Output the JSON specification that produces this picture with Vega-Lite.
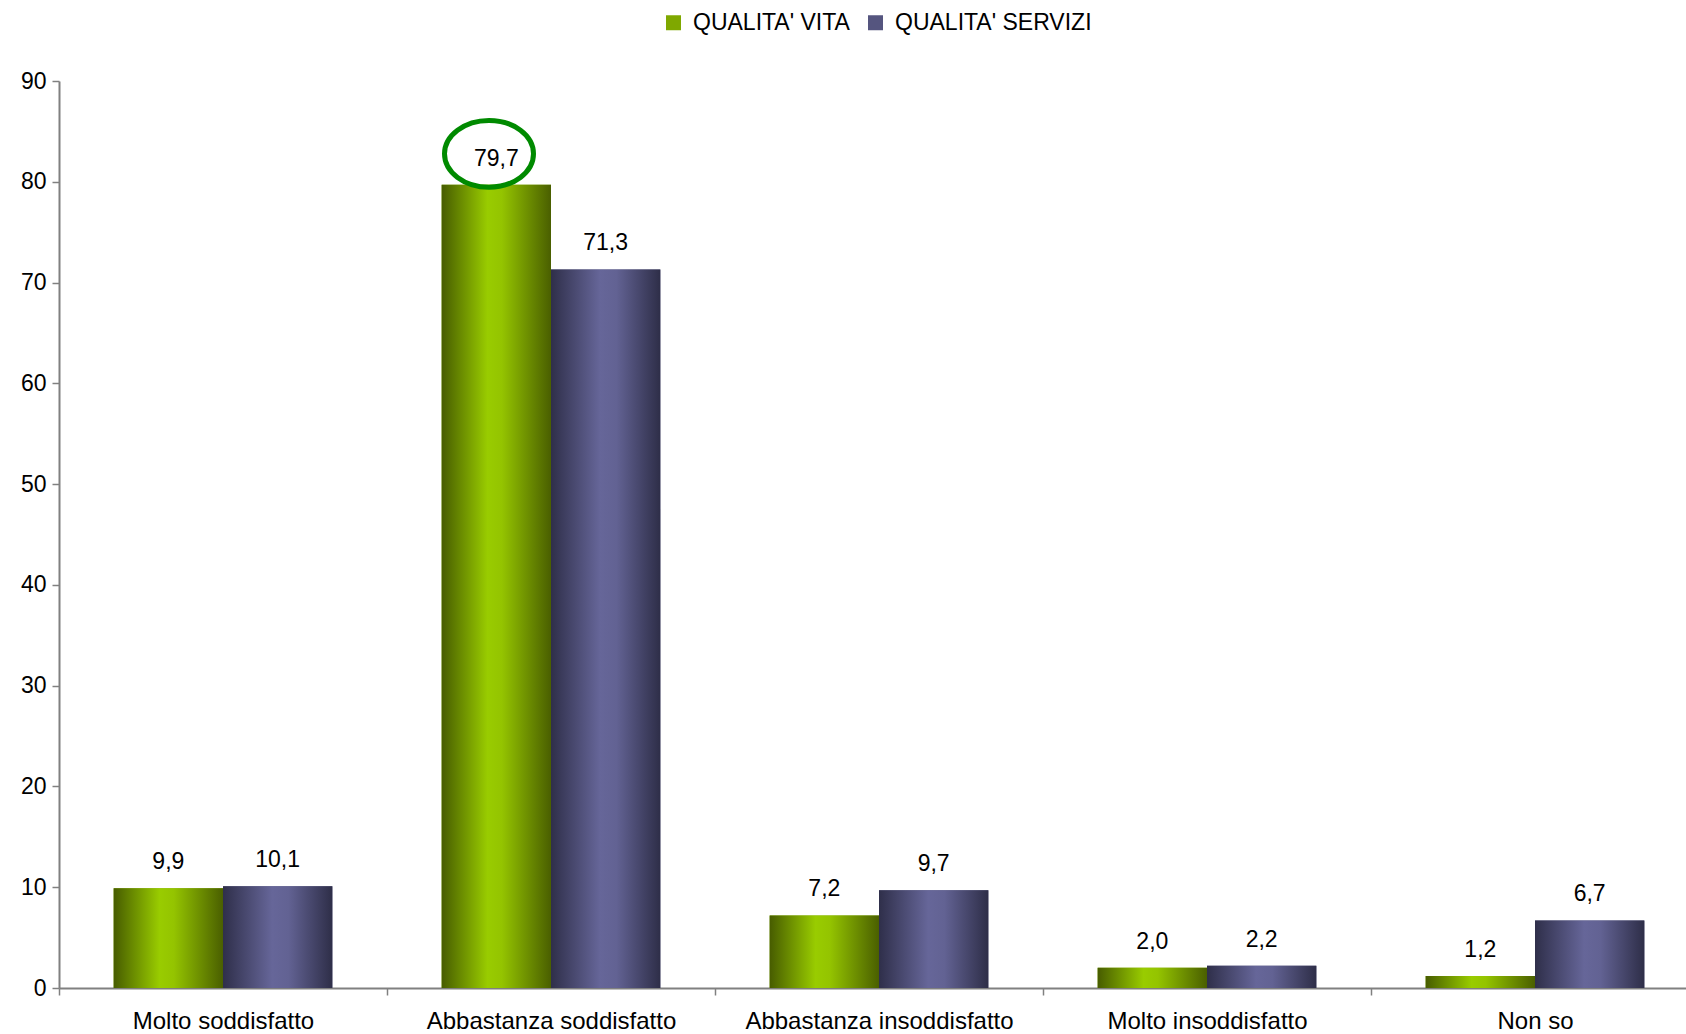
{
  "$schema": "https://vega.github.io/schema/vega-lite/v6.json",
  "autosize": {"type": "none"},
  "width": 1627,
  "height": 907,
  "padding": {"left": 59, "top": 81, "right": 0, "bottom": 46},
  "background": "white",
  "config": {
    "view": {"stroke": null},
    "font": "Liberation Sans",
    "locale": {"number": {"decimal": ",", "thousands": ".", "grouping": [3], "currency": ["", " €"]}}
  },
  "data": {
    "values": [
      {"risposta": "Molto soddisfatto", "serie": "QUALITA' VITA", "valore": 9.9},
      {"risposta": "Molto soddisfatto", "serie": "QUALITA' SERVIZI", "valore": 10.1},
      {"risposta": "Abbastanza soddisfatto", "serie": "QUALITA' VITA", "valore": 79.7},
      {"risposta": "Abbastanza soddisfatto", "serie": "QUALITA' SERVIZI", "valore": 71.3},
      {"risposta": "Abbastanza insoddisfatto", "serie": "QUALITA' VITA", "valore": 7.2},
      {"risposta": "Abbastanza insoddisfatto", "serie": "QUALITA' SERVIZI", "valore": 9.7},
      {"risposta": "Molto insoddisfatto", "serie": "QUALITA' VITA", "valore": 2.0},
      {"risposta": "Molto insoddisfatto", "serie": "QUALITA' SERVIZI", "valore": 2.2},
      {"risposta": "Non so", "serie": "QUALITA' VITA", "valore": 1.2},
      {"risposta": "Non so", "serie": "QUALITA' SERVIZI", "valore": 6.7}
    ]
  },
  "encoding": {
    "x": {
      "field": "risposta", "type": "nominal", "sort": null,
      "scale": {"range": [0, 1640], "paddingInner": 0, "paddingOuter": 0},
      "axis": {
        "title": null, "labelAngle": 0, "labelFontSize": 24, "labelColor": "#000000",
        "labelFont": "Liberation Sans", "labelPadding": 14, "labelLimit": 0,
        "domainColor": "#808080", "domainWidth": 2, "tickColor": "#808080", "tickWidth": 1.5,
        "tickSize": 7, "tickBand": "extent", "grid": false
      }
    },
    "y": {
      "field": "valore", "type": "quantitative",
      "scale": {"domain": [0, 90], "nice": false},
      "axis": {
        "title": null, "values": [0, 10, 20, 30, 40, 50, 60, 70, 80, 90],
        "labelFontSize": 23, "labelColor": "#000000", "labelFont": "Liberation Sans",
        "labelPadding": 6, "domainColor": "#808080", "domainWidth": 2,
        "tickColor": "#808080", "tickWidth": 1.5, "tickSize": 7, "grid": false
      }
    }
  },
  "layer": [
    {
      "mark": {"type": "bar"},
      "encoding": {
        "xOffset": {
          "field": "serie", "type": "nominal",
          "sort": ["QUALITA' VITA", "QUALITA' SERVIZI"],
          "scale": {"paddingInner": 0, "paddingOuter": 0.5}
        },
        "color": {
          "field": "serie", "type": "nominal",
          "sort": ["QUALITA' VITA", "QUALITA' SERVIZI"],
          "scale": {"domain": ["QUALITA' VITA", "QUALITA' SERVIZI"], "range": ["#7fa800", "#55557f"]},
          "legend": {
            "title": null, "orient": "none", "direction": "horizontal",
            "legendX": 603, "legendY": -70, "padding": 0,
            "symbolType": "square", "symbolSize": 225, "symbolStrokeWidth": 0,
            "labelFontSize": 23, "labelFont": "Liberation Sans", "labelColor": "#000000",
            "labelOffset": 8, "columnPadding": 14, "labelLimit": 0
          }
        }
      }
    },
    {
      "mark": {"type": "bar"},
      "encoding": {
        "xOffset": {
          "field": "serie", "type": "nominal",
          "sort": ["QUALITA' VITA", "QUALITA' SERVIZI"],
          "scale": {"paddingInner": 0, "paddingOuter": 0.5}
        },
        "fill": {
          "condition": {
            "test": "datum.serie === \"QUALITA' VITA\"",
            "value": {
              "gradient": "linear", "x1": 0, "x2": 1, "y1": 0, "y2": 0,
              "stops": [
                {"offset": 0, "color": "#475c00"},
                {"offset": 0.42, "color": "#99cc00"},
                {"offset": 0.55, "color": "#94c400"},
                {"offset": 1, "color": "#4a5f00"}
              ]
            }
          },
          "value": {
            "gradient": "linear", "x1": 0, "x2": 1, "y1": 0, "y2": 0,
            "stops": [
              {"offset": 0, "color": "#2f2f4a"},
              {"offset": 0.45, "color": "#666699"},
              {"offset": 0.6, "color": "#626293"},
              {"offset": 1, "color": "#2e2e48"}
            ]
          }
        }
      }
    },
    {
      "mark": {"type": "text", "baseline": "middle", "align": "center", "dy": -26, "fontSize": 23, "font": "Liberation Sans", "color": "#000000"},
      "encoding": {
        "xOffset": {
          "field": "serie", "type": "nominal",
          "sort": ["QUALITA' VITA", "QUALITA' SERVIZI"],
          "scale": {"paddingInner": 0, "paddingOuter": 0.5}
        },
        "text": {"field": "valore", "type": "quantitative", "format": ".1f"}
      }
    },
    {
      "transform": [{"filter": "datum.risposta === 'Abbastanza soddisfatto' && datum.serie === \"QUALITA' VITA\""}],
      "mark": {
        "type": "point",
        "shape": "M -1 0 A 1 0.75 0 1 0 1 0 A 1 0.75 0 1 0 -1 0 Z",
        "size": 7921,
        "filled": false,
        "stroke": "#008a00",
        "strokeWidth": 5,
        "opacity": 1,
        "yOffset": -31
      },
      "encoding": {
        "xOffset": {"value": 102}
      }
    }
  ]
}
